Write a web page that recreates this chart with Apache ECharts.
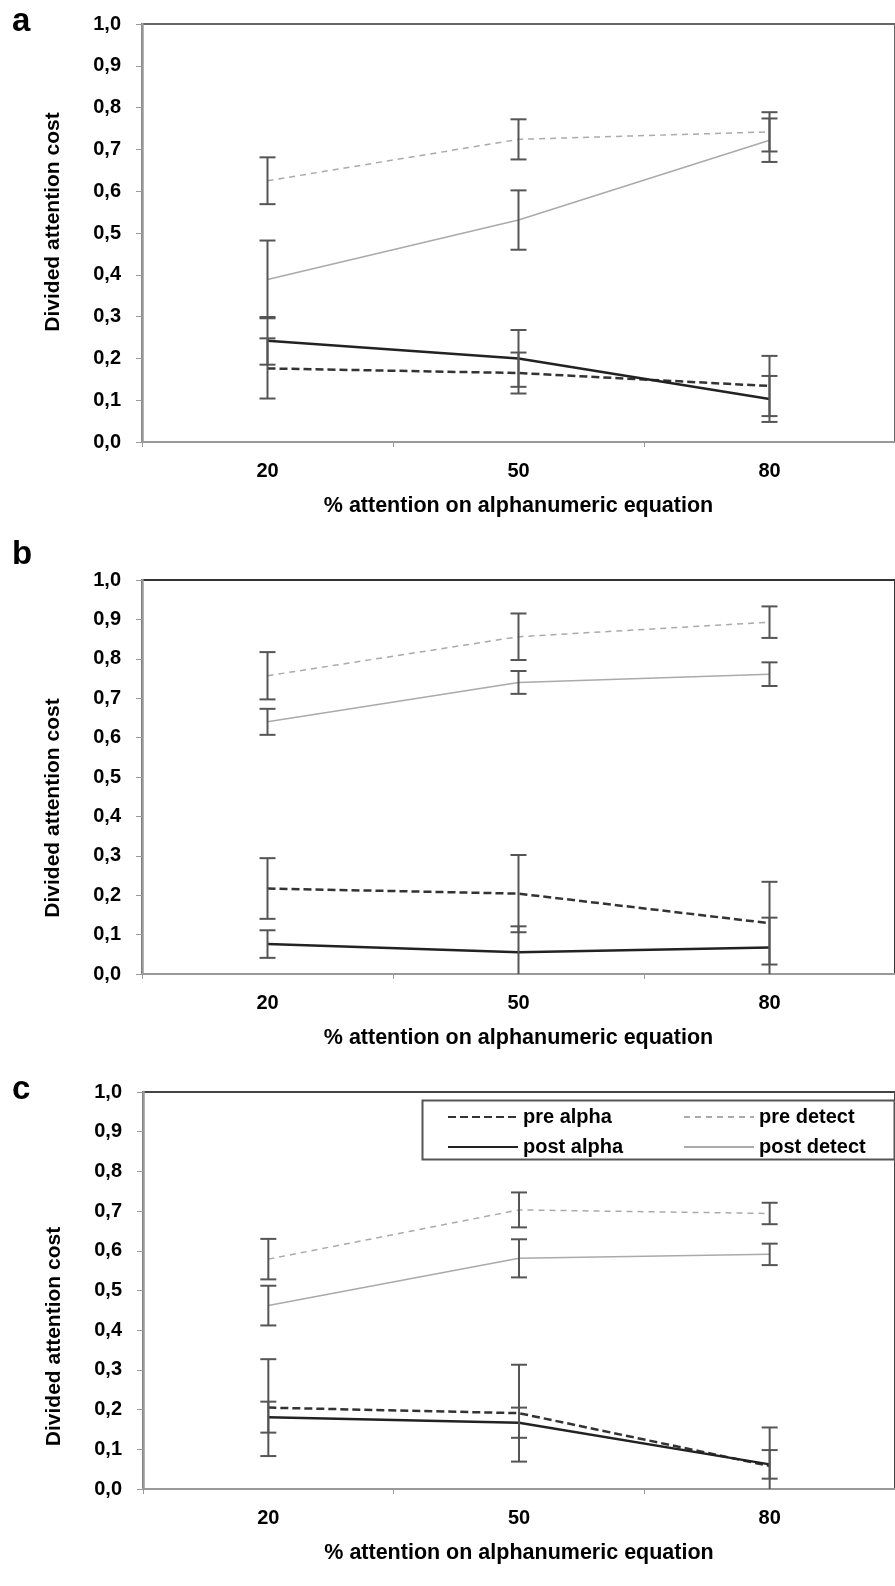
<!DOCTYPE html>
<html>
<head>
<meta charset="utf-8">
<script src="https://cdn.jsdelivr.net/npm/echarts@6/dist/echarts.min.js"></script>
<style>
html,body{margin:0;padding:0;background:#fff;}
#chart{width:895px;height:1586px;}
</style>
</head>
<body>
<div id="chart"></div>
<script>
// ---- data ----
const categories = ['20', '50', '80'];
const panelLetters = ['a', 'b', 'c'];
const seriesNames = ['pre alpha', 'post alpha', 'pre detect', 'post detect'];
const yAxisTitle = 'Divided attention cost';
const xAxisTitle = '% attention on alphanumeric equation';

// panel a
const aPreAlpha = [0.176, 0.165, 0.134];
const aPreAlphaErr = [0.072, 0.049, 0.072];
const aPostAlpha = [0.242, 0.200, 0.103];
const aPostAlphaErr = [0.057, 0.068, 0.055];
const aPreDetect = [0.625, 0.724, 0.742];
const aPreDetectErr = [0.056, 0.048, 0.047];
const aPostDetect = [0.389, 0.531, 0.722];
const aPostDetectErr = [0.093, 0.071, 0.052];

// panel b
const bPreAlpha = [0.217, 0.204, 0.129];
const bPreAlphaErr = [0.077, 0.098, 0.105];
const bPostAlpha = [0.076, 0.055, 0.067];
const bPostAlphaErr = [0.035, 0.066, 0.076];
const bPreDetect = [0.757, 0.856, 0.893];
const bPreDetectErr = [0.060, 0.059, 0.040];
const bPostDetect = [0.640, 0.740, 0.761];
const bPostDetectErr = [0.033, 0.029, 0.030];

// panel c
const cPreAlpha = [0.205, 0.191, 0.058];
const cPreAlphaErr = [0.122, 0.122, 0.097];
const cPostAlpha = [0.181, 0.167, 0.062];
const cPostAlphaErr = [0.039, 0.038, 0.036];
const cPreDetect = [0.579, 0.703, 0.694];
const cPreDetectErr = [0.051, 0.044, 0.027];
const cPostDetect = [0.462, 0.581, 0.591];
const cPostDetectErr = [0.050, 0.048, 0.027];

// ---- build ----
const FONT = "'Liberation Sans', Arial, sans-serif";
const panels = [
  {means: [aPreAlpha, aPostAlpha, aPreDetect, aPostDetect], errs: [aPreAlphaErr, aPostAlphaErr, aPreDetectErr, aPostDetectErr],
   grid: {left: 142, top: 24, width: 759, height: 418}, topColor: '#666', letterTop: 5, titlePad: [0, 0, 0, 22]},
  {means: [bPreAlpha, bPostAlpha, bPreDetect, bPostDetect], errs: [bPreAlphaErr, bPostAlphaErr, bPreDetectErr, bPostDetectErr],
   grid: {left: 142, top: 580, width: 759, height: 394}, topColor: '#333', letterTop: 538, titlePad: [0, 62, 0, 0]},
  {means: [cPreAlpha, cPostAlpha, cPreDetect, cPostDetect], errs: [cPreAlphaErr, cPostAlphaErr, cPreDetectErr, cPostDetectErr],
   grid: {left: 143, top: 1092, width: 759, height: 397}, topColor: '#444', letterTop: 1073, titlePad: [0, 92, 0, 0]}
];

const lineStyles = [
  {color: '#333', width: 2.5, type: [8, 4]},
  {color: '#222', width: 2.5, type: 'solid'},
  {color: '#aaa', width: 1.5, type: [6, 5]},
  {color: '#aaa', width: 1.5, type: 'solid'}
];

function errRender(params, api) {
  const x = api.value(0), m = api.value(1), e = api.value(2);
  const hi = m + e;
  let lo = m - e;
  const clipped = lo < 0;
  if (clipped) lo = 0;
  const pHi = api.coord([x, hi]);
  const pLo = api.coord([x, lo]);
  const hw = 8;
  const st = () => ({stroke: '#555', lineWidth: 2});
  const children = [
    {type: 'line', shape: {x1: pHi[0], y1: pHi[1], x2: pLo[0], y2: pLo[1]}, style: st()},
    {type: 'line', shape: {x1: pHi[0] - hw, y1: pHi[1], x2: pHi[0] + hw, y2: pHi[1]}, style: st()}
  ];
  if (!clipped) children.push({type: 'line', shape: {x1: pLo[0] - hw, y1: pLo[1], x2: pLo[0] + hw, y2: pLo[1]}, style: st()});
  return {type: 'group', children};
}

const grids = [], xAxes = [], yAxes = [], series = [], titles = [];
panels.forEach((p, k) => {
  grids.push(Object.assign({show: true, borderColor: p.topColor, borderWidth: 2, backgroundColor: 'transparent'}, p.grid));
  xAxes.push({
    type: 'category', gridIndex: k, data: categories, boundaryGap: true,
    axisLine: {lineStyle: {color: '#999', width: 2}},
    axisTick: {show: true, length: 5, interval: 0, lineStyle: {color: '#999', width: 1}},
    axisLabel: {fontFamily: FONT, fontSize: 20, fontWeight: 'bold', color: '#000', margin: 19},
    name: xAxisTitle, nameLocation: 'middle', nameGap: 53,
    nameTextStyle: {fontFamily: FONT, fontSize: 21.5, fontWeight: 'bold', color: '#000'},
    splitLine: {show: false}
  });
  yAxes.push({
    type: 'value', gridIndex: k, min: 0, max: 1, interval: 0.1,
    axisLine: {show: true, lineStyle: {color: '#999', width: 2.5}},
    axisTick: {show: true, length: 6, lineStyle: {color: '#999', width: 1}},
    axisLabel: {fontFamily: FONT, fontSize: 20, fontWeight: 'bold', color: '#000', margin: 21,
      formatter: v => v.toFixed(1).replace('.', ',')},
    splitLine: {show: false},
    name: yAxisTitle, nameLocation: 'middle', nameGap: 78,
    nameTextStyle: {fontFamily: FONT, fontSize: 21, fontWeight: 'bold', color: '#000', padding: p.titlePad}
  });
  p.means.forEach((m, s) => {
    series.push({
      type: 'line', name: seriesNames[s], xAxisIndex: k, yAxisIndex: k, data: m,
      symbol: 'none', showSymbol: false, silent: true, z: 3,
      lineStyle: Object.assign({}, lineStyles[s]), itemStyle: {color: lineStyles[s].color}
    });
  });
  const errData = [];
  p.means.forEach((m, s) => {
    m.forEach((v, i) => errData.push([i, v, p.errs[s][i]]));
  });
  series.push({
    type: 'custom', name: 'err' + k, xAxisIndex: k, yAxisIndex: k, data: errData,
    renderItem: errRender, encode: {x: 0, y: 1}, z: 4, silent: true
  });
  titles.push({text: panelLetters[k], left: 12, top: p.letterTop, padding: 0,
    textStyle: {fontFamily: FONT, fontSize: 33, fontWeight: 'bold', color: '#000'}});
});

const legendCommon = {
  orient: 'vertical', itemWidth: 70, itemHeight: 14, itemGap: 10, top: 1107,
  itemStyle: {opacity: 0},
  textStyle: {fontFamily: FONT, fontSize: 20, fontWeight: 'bold', color: '#000', lineHeight: 20},
  selectedMode: false, padding: 0
};

const option = {
  animation: false,
  backgroundColor: '#fff',
  title: titles,
  grid: grids,
  xAxis: xAxes,
  yAxis: yAxes,
  legend: [
    Object.assign({}, legendCommon, {left: 447, data: [seriesNames[0], seriesNames[1]]}),
    Object.assign({}, legendCommon, {left: 683, data: [seriesNames[2], seriesNames[3]]})
  ],
  graphic: [{
    type: 'rect', left: 420, top: 1098, shape: {width: 472, height: 59},
    style: {fill: 'none', stroke: '#555', lineWidth: 2}, z: 100, silent: true
  }],
  series: series
};

const chart = echarts.init(document.getElementById('chart'), null, {renderer: 'canvas'});
chart.setOption(option);
</script>
</body>
</html>
